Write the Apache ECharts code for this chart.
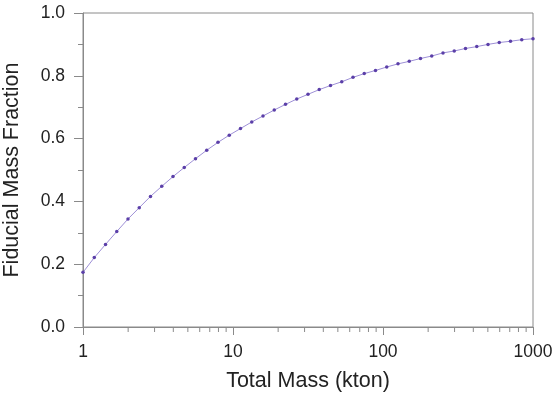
<!DOCTYPE html>
<html>
<head>
<meta charset="utf-8">
<script src="https://cdn.jsdelivr.net/npm/echarts@6/dist/echarts.min.js"></script>
<style>
  html, body { margin: 0; padding: 0; background: #fff; }
  #chart { width: 554px; height: 397px; }
</style>
</head>
<body>
<div id="chart"></div>
<script>
// total mass (kton), log spaced points
var massKton = [1, 1.189, 1.413, 1.679, 1.995, 2.371, 2.818, 3.350, 3.981, 4.732,
  5.623, 6.683, 7.943, 9.441, 11.22, 13.34, 15.85, 18.84, 22.39, 26.61,
  31.62, 37.58, 44.67, 53.09, 63.10, 74.99, 89.13, 105.9, 125.9, 149.6,
  177.8, 211.3, 251.2, 298.5, 354.8, 421.7, 501.2, 595.7, 707.9, 841.4, 1000];
var fiducialFrac = [0.174, 0.221, 0.263, 0.304, 0.344, 0.380, 0.416, 0.448, 0.479, 0.508,
  0.536, 0.563, 0.588, 0.611, 0.632, 0.653, 0.672, 0.691, 0.709, 0.726,
  0.741, 0.756, 0.769, 0.781, 0.795, 0.807, 0.817, 0.828, 0.838, 0.846,
  0.855, 0.863, 0.873, 0.879, 0.887, 0.893, 0.900, 0.906, 0.910, 0.915, 0.918];
// minor ticks of the log axis
var xMinorTicks = [2, 3, 4, 5, 6, 7, 8, 9, 20, 30, 40, 50, 60, 70, 80, 90,
  200, 300, 400, 500, 600, 700, 800, 900];

var FONT = '"Liberation Sans", Arial, Helvetica, sans-serif';
var AXIS_COL = '#8a8a8a';

var chart = echarts.init(document.getElementById('chart'));
var pts = [];
for (var i = 0; i < massKton.length; i++) {
  pts.push([massKton[i], fiducialFrac[i]]);
}

var option = {
  animation: false,
  grid: {
    left: 83, right: 21, top: 13, bottom: 70,
    outerBoundsMode: 'none', containLabel: false,
    show: true, borderColor: AXIS_COL, borderWidth: 1, backgroundColor: 'transparent'
  },
  xAxis: {
    type: 'log', logBase: 10, min: 1, max: 1000,
    name: 'Total Mass (kton)', nameLocation: 'middle', nameGap: 43,
    nameTextStyle: { fontFamily: FONT, fontSize: 21.5, color: '#222' },
    axisLine: { lineStyle: { color: AXIS_COL, width: 1 } },
    axisTick: { inside: false, length: 8, lineStyle: { color: AXIS_COL } },
    axisLabel: {
      fontFamily: FONT, fontSize: 17.5, color: '#222', margin: 16,
      formatter: function (v) { return String(Math.round(v)); }
    },
    splitLine: { show: false }
  },
  yAxis: {
    type: 'value', min: 0, max: 1, interval: 0.2,
    name: 'Fiducial Mass Fraction', nameLocation: 'middle', nameGap: 60,
    nameTextStyle: { fontFamily: FONT, fontSize: 21.5, color: '#222' },
    axisLine: { show: true, lineStyle: { color: AXIS_COL, width: 1 } },
    axisTick: { show: true, inside: false, length: 9, lineStyle: { color: AXIS_COL } },
    minorTick: { show: true, splitNumber: 2, length: 5, lineStyle: { color: AXIS_COL } },
    axisLabel: {
      fontFamily: FONT, fontSize: 17.5, color: '#222', margin: 18,
      formatter: function (v) { return v.toFixed(1); }
    },
    splitLine: { show: false }
  },
  series: [
    {
      type: 'line',
      data: pts,
      smooth: false,
      showSymbol: true,
      symbol: 'circle',
      symbolSize: 3.5,
      lineStyle: { color: '#9d8fd6', width: 1 },
      itemStyle: { color: '#5b3fa8' },
      clip: false
    },
    {
      // minor ticks below the x axis, placed through the axis scale
      type: 'custom',
      data: xMinorTicks,
      silent: true,
      clip: false,
      renderItem: function (params, api) {
        var p = api.coord([api.value(0), 0]);
        return {
          type: 'line',
          shape: { x1: p[0], y1: p[1], x2: p[0], y2: p[1] + 5 },
          style: { stroke: AXIS_COL, lineWidth: 1 }
        };
      },
      encode: { x: 0 }
    }
  ]
};
chart.setOption(option);
</script>
</body>
</html>
